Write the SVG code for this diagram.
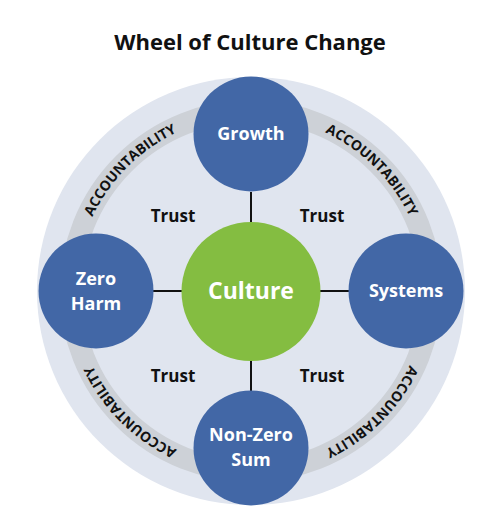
<svg xmlns="http://www.w3.org/2000/svg" width="495" height="510" viewBox="0 0 495 510">
<style>
.title{font-family:"Open Sans","Liberation Sans",sans-serif;font-weight:700;font-size:22px;fill:#111;text-anchor:middle}
.node{fill:#4267a6}
.nl{font-family:"Open Sans","Liberation Sans",sans-serif;font-weight:700;font-size:18px;fill:#fff;text-anchor:middle}
.trust{font-family:"Open Sans","Liberation Sans",sans-serif;font-weight:700;font-size:17px;fill:#111;text-anchor:middle}
.acc{font-family:"Open Sans","Liberation Sans",sans-serif;font-weight:700;font-size:14px;fill:#111;text-anchor:middle}
.conn{stroke:#111;stroke-width:2;fill:none}
</style>
<defs>
<path id="a1" d="M76,291 A175,175 0 0 1 251,116"/>
<path id="a2" d="M251,116 A175,175 0 0 1 426,291"/>
<path id="a3" d="M426,291 A175,175 0 0 1 251,466"/>
<path id="a4" d="M251,466 A175,175 0 0 1 76,291"/>
</defs>
<rect width="495" height="510" fill="#fff"/>
<text class="title" x="250" y="50">Wheel of Culture Change</text>
<g id="wheel">
<circle cx="251" cy="291" r="214" fill="#e0e5ef"/>
<circle cx="251" cy="291" r="180" fill="none" stroke="#cdd1d7" stroke-width="22"/>
<text class="acc"><textPath href="#a1" startOffset="50%">ACCOUNTABILITY</textPath></text>
<text class="acc"><textPath href="#a2" startOffset="50%">ACCOUNTABILITY</textPath></text>
<text class="acc"><textPath href="#a3" startOffset="50%">ACCOUNTABILITY</textPath></text>
<text class="acc"><textPath href="#a4" startOffset="50%">ACCOUNTABILITY</textPath></text>
</g>
<g id="connectors">
<line class="conn" x1="251" y1="192" x2="251" y2="222"/>
<line class="conn" x1="251" y1="361" x2="251" y2="391"/>
<line class="conn" x1="152" y1="291" x2="182" y2="291"/>
<line class="conn" x1="320" y1="291" x2="350" y2="291"/>
</g>
<g id="trust">
<text class="trust" x="173" y="222">Trust</text>
<text class="trust" x="322" y="222">Trust</text>
<text class="trust" x="173" y="382">Trust</text>
<text class="trust" x="322" y="382">Trust</text>
</g>
<g id="culture">
<circle cx="251" cy="291.5" r="69.5" fill="#84bd41"/>
<text class="nl" style="font-size:23px" x="251" y="299">Culture</text>
</g>
<g id="growth">
<circle class="node" cx="251" cy="134" r="57.5"/>
<text class="nl" x="251" y="140">Growth</text>
</g>
<g id="systems">
<circle class="node" cx="406" cy="291" r="57.5"/>
<text class="nl" x="406" y="297">Systems</text>
</g>
<g id="zeroharm">
<circle class="node" cx="96" cy="291" r="57.5"/>
<text class="nl" x="96" y="285">Zero</text>
<text class="nl" x="96" y="310">Harm</text>
</g>
<g id="nonzerosum">
<circle class="node" cx="251" cy="448" r="57.5"/>
<text class="nl" x="251" y="441">Non-Zero</text>
<text class="nl" x="251" y="466">Sum</text>
</g>
</svg>
